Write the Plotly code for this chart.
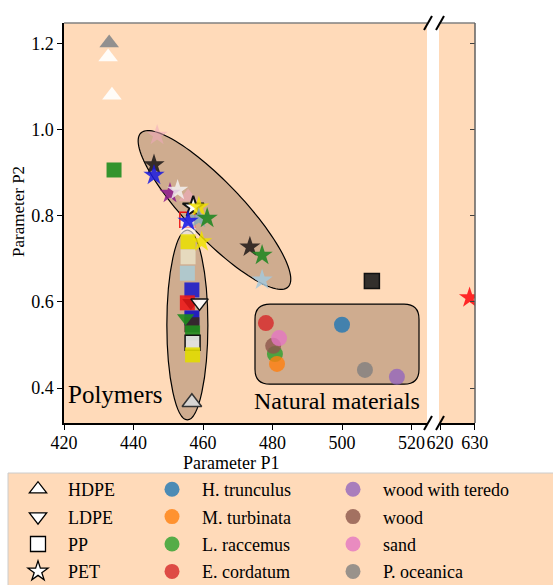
import numpy as np
import plotly.graph_objects as go

W, H = 553, 585
FONT = "Liberation Serif"
PEACH = "#FFDAB9"
TAN = "rgb(207,172,143)"

# ---------------- data ----------------
hdpe_x = [433.0, 432.7, 433.8, 455.7, 456.8]
hdpe_y = [1.202, 1.170, 1.081, 0.844, 0.367]
hdpe_c = ["rgba(140,140,140,0.95)", "rgba(255,255,255,0.9)", "rgba(255,255,255,0.9)",
          "rgba(240,170,190,0.6)", "rgba(215,215,215,0.95)"]
hdpe_e = ["rgba(0,0,0,0)", "rgba(0,0,0,0)", "rgba(0,0,0,0)", "rgba(0,0,0,0)", "#333333"]

ldpe_x = [456.5, 459.0, 455.0]
ldpe_y = [0.598, 0.598, 0.563]
ldpe_c = ["rgba(200,20,20,0.9)", "rgba(255,255,255,0.9)", "rgba(30,140,30,0.9)"]
ldpe_e = ["rgba(0,0,0,0)", "#111111", "rgba(0,0,0,0)"]

pp_x = [434.4, 455.5, 455.7, 455.7, 455.7, 455.5, 456.8, 455.5, 456.8, 456.8, 457.0, 457.0, 457.0, 508.6]
pp_y = [0.907, 0.791, 0.772, 0.740, 0.705, 0.667, 0.628, 0.598, 0.563, 0.547, 0.528, 0.505, 0.477, 0.649]
pp_c = ["rgba(30,140,30,0.9)", "rgba(0,0,0,0)", "rgba(255,255,255,0.6)", "rgba(235,225,0,0.85)",
        "rgba(240,238,210,0.7)", "rgba(170,205,215,0.85)", "rgba(20,20,205,0.85)",
        "rgba(235,25,25,0.9)", "rgba(15,15,195,0.9)", "rgba(55,40,30,0.9)",
        "rgba(30,140,30,0.9)", "rgba(225,225,225,0.95)", "rgba(225,220,0,0.9)",
        "rgba(40,38,36,0.95)"]
pp_e = ["rgba(0,0,0,0)", "#ee1111", "rgba(0,0,0,0)", "rgba(0,0,0,0)", "rgba(0,0,0,0)",
        "rgba(0,0,0,0)", "rgba(0,0,0,0)", "rgba(0,0,0,0)", "rgba(0,0,0,0)", "rgba(0,0,0,0)",
        "rgba(0,0,0,0)", "#111111", "rgba(0,0,0,0)", "#111111"]

pet_x = [446.8, 445.9, 445.9, 450.5, 452.7, 457.2, 458.8, 458.8, 461.2, 459.6, 473.5, 477.0, 477.0, 455.7]
pet_y = [0.988, 0.919, 0.895, 0.853, 0.860, 0.821, 0.821, 0.795, 0.795, 0.740, 0.728, 0.709, 0.651, 0.788]
pet_c = ["rgba(240,170,190,0.55)", "rgba(35,30,28,0.9)", "rgba(25,25,225,0.85)",
         "rgba(140,25,140,0.85)", "rgba(245,245,245,0.8)", "rgba(255,255,255,0.95)",
         "rgba(240,225,0,0.85)", "rgba(135,170,185,0.85)", "rgba(35,135,35,0.9)",
         "rgba(240,225,0,0.85)", "rgba(40,32,30,0.9)", "rgba(35,135,35,0.9)",
         "rgba(165,200,220,0.85)", "rgba(30,30,230,0.9)"]
pet_e = ["rgba(0,0,0,0)"] * 5 + ["#111111"] + ["rgba(0,0,0,0)"] * 8

pet_far_x = [628.5]
pet_far_y = [0.610]

nat_names = ["H. trunculus", "M. turbinata", "L. raccemus", "E. cordatum",
             "wood with teredo", "wood", "sand", "P. oceanica"]
nat_x = [500.0, 481.3, 480.7, 478.1, 515.8, 480.2, 481.9, 506.6]
nat_y = [0.547, 0.456, 0.479, 0.551, 0.426, 0.498, 0.516, 0.442]
nat_c = ["#1f77b4", "#ff7f0e", "#2ca02c", "#d62728", "#9467bd", "#8c564b", "#e377c2", "#7f7f7f"]
nat_draw_order = [3, 0, 2, 1, 5, 6, 7, 4]

x_ticks_left = [420, 440, 460, 480, 500, 520]
x_ticks_right = [620, 630]
y_ticks = [0.4, 0.6, 0.8, 1.0, 1.2]

# ---------------- layout geometry ----------------
X_DOM = [64 / W, 427 / W]
X2_DOM = [439 / W, 475 / W]
Y_DOM = [1 - 423 / H, 1 - 23 / H]
X_RANGE = [420, 524.46]
X2_RANGE = [619.7, 630.06]
Y_RANGE = [0.3186, 1.2488]
PX_X = (X_DOM[1] - X_DOM[0]) * W / (X_RANGE[1] - X_RANGE[0])
PX_Y = (Y_DOM[1] - Y_DOM[0]) * H / (Y_RANGE[1] - Y_RANGE[0])

fig = go.Figure()

def add(x, y, sym, size, colors, edges, xaxis="x", lw=1.5):
    fig.add_trace(go.Scatter(
        x=x, y=y, mode="markers", showlegend=False, hoverinfo="skip",
        xaxis=xaxis, yaxis="y",
        marker=dict(symbol=sym, size=size, color=colors,
                    line=dict(color=edges, width=lw))))

add(hdpe_x, hdpe_y, "triangle-up", 17, hdpe_c, hdpe_e)
add(pp_x, pp_y, "square", 15, pp_c, pp_e)
add(ldpe_x, ldpe_y, "triangle-down", 15, ldpe_c, ldpe_e)
add(pet_x, pet_y, "star", 16, pet_c, pet_e, lw=2)
fig.add_trace(go.Scatter(x=pet_far_x, y=pet_far_y, mode="markers", showlegend=False,
                         xaxis="x2", yaxis="y2", hoverinfo="skip",
                         marker=dict(symbol="star", size=16, color="rgba(255,30,30,0.95)")))
for i in nat_draw_order:
    fig.add_trace(go.Scatter(x=[nat_x[i]], y=[nat_y[i]], mode="markers", showlegend=False,
                             hoverinfo="skip", xaxis="x", yaxis="y",
                             marker=dict(symbol="circle", size=16, color=nat_c[i], opacity=0.8)))

# ---------------- legend entries ----------------
poly_legend = [("HDPE", "triangle-up"), ("LDPE", "triangle-down"), ("PP", "square"), ("PET", "star")]
for name, sym in poly_legend:
    fig.add_trace(go.Scatter(x=[None], y=[None], mode="markers", name=name, legend="legend",
                             legendgroup=name,
                             marker=dict(symbol=sym, size=15, color="white",
                                         line=dict(color="black", width=1.3))))
for i, name in enumerate(nat_names):
    fig.add_trace(go.Scatter(x=[None], y=[None], mode="markers", name=name,
                             legend="legend2" if i < 4 else "legend3", legendgroup=name,
                             marker=dict(symbol="circle", size=15, color=nat_c[i], opacity=0.8)))

# ---------------- shapes ----------------
shapes = []
# rotated ellipse (PET group)
cx, cy = 463.3, 0.814
a_px, b_px, ang = 106.5, 28.0, np.deg2rad(-46.3)
t = np.linspace(0, 2 * np.pi, 120)
ex = a_px * np.cos(t) * np.cos(ang) - b_px * np.sin(t) * np.sin(ang)
ey = a_px * np.cos(t) * np.sin(ang) + b_px * np.sin(t) * np.cos(ang)
px_ = cx + ex / PX_X
py_ = cy + ey / PX_Y
path = "M " + " L ".join(f"{u:.4f},{v:.5f}" for u, v in zip(px_, py_)) + " Z"
shapes.append(dict(type="path", path=path, xref="x", yref="y", layer="below",
                   fillcolor=TAN, line=dict(color="black", width=1.2)))
# vertical ellipse
shapes.append(dict(type="circle", xref="x", yref="y", x0=449.6, x1=461.4, y0=0.326, y1=0.767,
                   layer="below", fillcolor=TAN, line=dict(color="black", width=1.2)))
# rounded rectangle
x0, x1, y0, y1 = 474.96, 522.16, 0.409, 0.595
rx, ry = 15 / PX_X, 15 / PX_Y
rr = (f"M {x0+rx},{y0} L {x1-rx},{y0} Q {x1},{y0} {x1},{y0+ry} L {x1},{y1-ry} "
      f"Q {x1},{y1} {x1-rx},{y1} L {x0+rx},{y1} Q {x0},{y1} {x0},{y1-ry} "
      f"L {x0},{y0+ry} Q {x0},{y0} {x0+rx},{y0} Z")
shapes.append(dict(type="path", path=rr, xref="x", yref="y", layer="below",
                   fillcolor=TAN, line=dict(color="black", width=1.2)))

def P(px, py):
    return px / W, 1 - py / H

# frame lines (top gray, right gray)
for (ax0, ax1) in [(64, 427), (439, 475)]:
    a, b = P(ax0, 23), P(ax1, 23)
    shapes.append(dict(type="line", xref="paper", yref="paper", x0=a[0], y0=a[1], x1=b[0], y1=b[1],
                       line=dict(color="#808080", width=1.5)))
a, b = P(475, 23), P(475, 423)
shapes.append(dict(type="line", xref="paper", yref="paper", x0=a[0], y0=a[1], x1=b[0], y1=b[1],
                   line=dict(color="#606060", width=1.5)))
# break marks
for yy in (23, 423):
    for xx in (428, 440):
        a, b = P(xx - 4, yy + 7), P(xx + 4, yy - 7)
        shapes.append(dict(type="line", xref="paper", yref="paper", x0=a[0], y0=a[1], x1=b[0], y1=b[1],
                           line=dict(color="black", width=2)))
# legend box
a, b = P(8, 473), P(560, 590)
shapes.append(dict(type="rect", xref="paper", yref="paper", x0=a[0], y0=a[1], x1=b[0], y1=b[1],
                   fillcolor=PEACH, line=dict(color="#cccccc", width=1), layer="below"))

annotations = [
    dict(text="Polymers", x=434.7, y=0.386, xref="x", yref="y", showarrow=False,
         font=dict(family=FONT, size=25, color="black")),
    dict(text="Natural materials", x=498.6, y=0.369, xref="x", yref="y", showarrow=False,
         font=dict(family=FONT, size=24, color="black")),
    dict(text="Parameter P1", x=231 / W, y=1 - 463 / H, xref="paper", yref="paper",
         xanchor="center", yanchor="middle",
         showarrow=False, font=dict(family=FONT, size=18, color="black")),
    dict(text="Parameter P2", x=18 / W, y=1 - 212 / H, xref="paper", yref="paper",
         xanchor="center", yanchor="middle",
         showarrow=False, textangle=-90, font=dict(family=FONT, size=17, color="black")),
]

tickfont = dict(family=FONT, size=18, color="black")
leg_common = dict(bgcolor="rgba(0,0,0,0)", borderwidth=0, itemwidth=50, tracegroupgap=1,
                  font=dict(family=FONT, size=18, color="black"), yanchor="top",
                  xanchor="left", y=1 - 471 / H, orientation="v", itemclick=False,
                  xref="container", yref="container")

fig.update_layout(
    width=W, height=H, margin=dict(l=0, r=0, t=0, b=0, autoexpand=False),
    paper_bgcolor="white", plot_bgcolor=PEACH,
    xaxis=dict(domain=X_DOM, range=X_RANGE, tickvals=x_ticks_left, ticks="outside",
               ticklen=5, tickcolor="black", showline=True, linecolor="black", linewidth=1.5,
               showgrid=False, zeroline=False, tickfont=tickfont, anchor="y",
               ticklabelstandoff=-2),
    xaxis2=dict(domain=X2_DOM, range=X2_RANGE, tickvals=x_ticks_right, ticks="outside",
                ticklen=5, tickcolor="black", showline=True, linecolor="black", linewidth=1.5,
                showgrid=False, zeroline=False, tickfont=tickfont, anchor="y2",
                ticklabelstandoff=-2),
    yaxis=dict(domain=Y_DOM, range=Y_RANGE, tickvals=y_ticks, ticks="outside", ticklen=5,
               tickcolor="black", showline=True, linecolor="black", linewidth=1.5,
               showgrid=False, zeroline=False, tickfont=tickfont, anchor="x",
               tickformat=".1f"),
    yaxis2=dict(domain=Y_DOM, range=Y_RANGE, tickvals=y_ticks, ticks="inside", ticklen=5,
                tickcolor="#404040", showticklabels=False, showline=False, showgrid=False,
                zeroline=False, anchor="x2", side="right", matches="y"),
    shapes=shapes, annotations=annotations,
    legend=dict(x=8 / W, **leg_common),
    legend2=dict(x=142 / W, **leg_common),
    legend3=dict(x=323 / W, **leg_common),
)

fig.write_html("out.html", config={"displayModeBar": False},
               post_script="document.body.style.margin='0px';")
